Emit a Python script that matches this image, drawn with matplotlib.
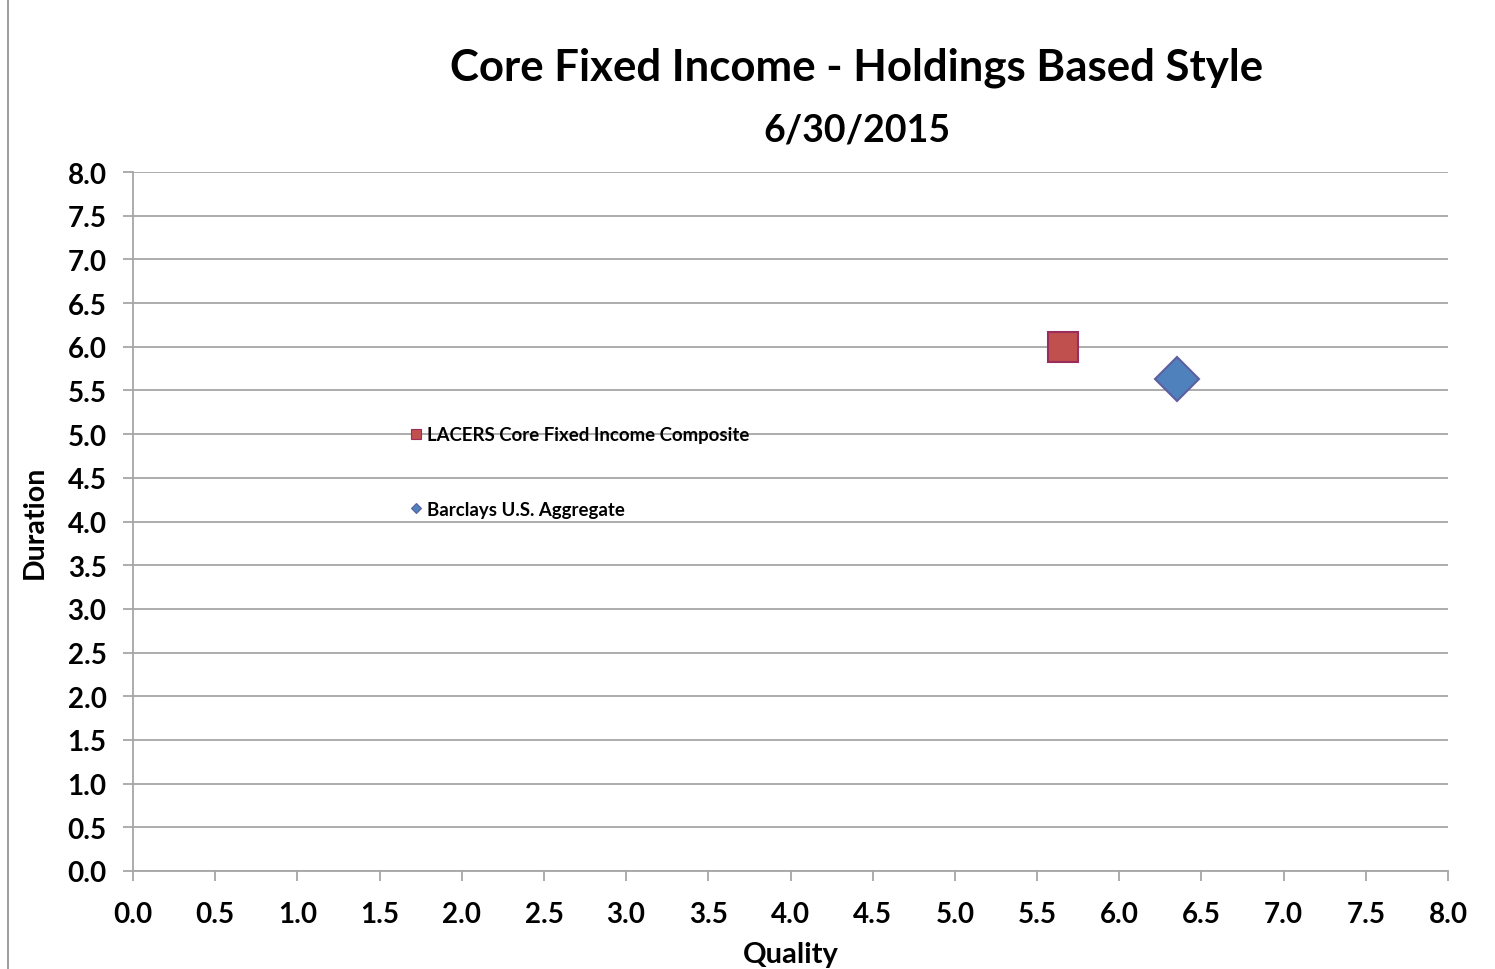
import matplotlib
matplotlib.use("Agg")
import matplotlib.pyplot as plt
from matplotlib.lines import Line2D
from matplotlib.patches import Rectangle

# Data
series_names = ["LACERS Core Fixed Income Composite", "Barclays U.S. Aggregate"]
quality = [5.66, 6.35]
duration = [6.00, 5.63]
x_ticks = [i * 0.5 for i in range(17)]
y_ticks = [i * 0.5 for i in range(17)]

FONT = ["Lato", "DejaVu Sans"]
plt.rcParams['font.family'] = FONT

fig = plt.figure(figsize=(14.95, 9.70), dpi=100)
ax = fig.add_axes([133/1495, 1-872/970, (1448-133)/1495, (872-173)/970])

grid_c = "#A6A6A6"
ax.set_xlim(0, 8)
ax.set_ylim(0, 8)
ax.set_xticks(x_ticks)
ax.set_yticks(y_ticks)
ax.set_xticklabels([f"{v:.1f}" for v in x_ticks])
ax.set_yticklabels([f"{v:.1f}" for v in y_ticks])
ax.yaxis.grid(True, color=grid_c, lw=1.3)
ax.set_axisbelow(True)
for s in ["top", "right"]:
    ax.spines[s].set_visible(False)
for s in ["left", "bottom"]:
    ax.spines[s].set_color(grid_c)
    ax.spines[s].set_linewidth(1.3)
ax.tick_params(axis="both", direction="out", length=7, width=1.3, color=grid_c,
               labelsize=20)
ax.tick_params(axis="x", pad=14.5)
ax.tick_params(axis="y", pad=12)
for lab in ax.get_xticklabels() + ax.get_yticklabels():
    lab.set_fontweight("bold")

styles = [
    dict(marker="s", ms=21, mfc="#C0504D", mec="#9B2D5C", mew=1.5),
    dict(marker="D", ms=22, mfc="#4F81BD", mec="#5F5F9F", mew=1.5),
]
for x, y, st in zip(quality, duration, styles):
    ax.plot([x], [y], ls="none", clip_on=False, zorder=3, **st)

handles = [
    Line2D([], [], ls="none", marker="s", ms=7, mfc="#C0504D", mec="#9B2D5C", mew=0.8),
    Line2D([], [], ls="none", marker="D", ms=5.5, mfc="#4F81BD", mec="#5F5F9F", mew=0.8),
]
leg = ax.legend(handles, series_names, loc="upper left", bbox_to_anchor=(0.204, 0.6495),
                frameon=False, prop=dict(family=FONT, weight="bold", size=13.4),
                handlelength=0.6, handletextpad=0.3, labelspacing=3.1, borderpad=0)

ax.set_xlabel("Quality", fontsize=21, fontweight="bold", labelpad=10)
ax.set_ylabel("Duration", fontsize=20.5, fontweight="bold", labelpad=14)

fig.text(857/1495, 1-68/970, "Core Fixed Income - Holdings Based Style", ha="center",
         va="center", fontsize=31.5, fontweight="bold")
fig.text(857/1495, 1-131/970, "6/30/2015", ha="center", va="center",
         fontsize=27, fontweight="bold")

fig.add_artist(Rectangle((8/1495, -0.2), 1.2, 1.2 + (1-6/970), transform=fig.transFigure,
                         fill=False, edgecolor="#8C8C8C", lw=1.2))

fig.savefig("out.png", dpi=100, facecolor="white")
